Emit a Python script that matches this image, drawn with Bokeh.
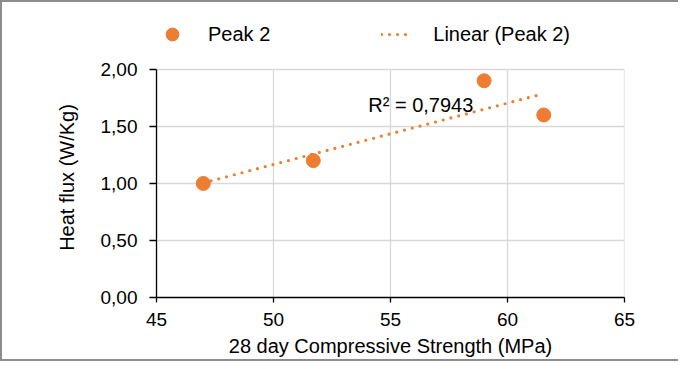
import numpy as np
from bokeh.plotting import figure
from bokeh.models import (Legend, LegendItem, Label, FixedTicker,
                          CustomJSTickFormatter, Range1d)
from bokeh.embed import file_html
from bokeh.resources import INLINE

# ---- data ----
strength = [47.0, 51.7, 59.0, 61.55]
heat_flux = [1.00, 1.20, 1.90, 1.60]
x_ticks = [45, 50, 55, 60, 65]
y_ticks = [0.0, 0.5, 1.0, 1.5, 2.0]
series_name = "Peak 2"
trend_name = "Linear (Peak 2)"
r2_text = "R² = 0,7943"
x_title = "28 day Compressive Strength (MPa)"
y_title = "Heat flux (W/Kg)"

# linear trendline computed from the data
slope, intercept = np.polyfit(strength, heat_flux, 1)
trend_x = [min(strength), max(strength)]
trend_y = [slope * v + intercept for v in trend_x]

ORANGE = "#ED7D31"
FONT = "Liberation Sans"
GRID = "#d9d9d9"

# frame extends above the plot area to host the legend (plot area is 0..2)
Y_VIEW_TOP = 2 + (71 - 10) / 112.5

p = figure(width=678, height=361, x_range=Range1d(45, 65), y_range=Range1d(0, Y_VIEW_TOP),
           output_backend="svg", toolbar_location=None,
           min_border_left=154, min_border_right=56,
           min_border_top=5, min_border_bottom=66)
p.styles = {"border-top": "2px solid #8c8c8c", "border-left": "2px solid #8c8c8c",
            "border-bottom": "2px solid #8c8c8c"}
p.outline_line_color = None
p.background_fill_color = "white"
p.border_fill_color = "white"

# axes
p.xaxis.ticker = FixedTicker(ticks=x_ticks)
p.yaxis.ticker = FixedTicker(ticks=y_ticks)
p.yaxis.bounds = (y_ticks[0], y_ticks[-1])
p.yaxis.formatter = CustomJSTickFormatter(code="return tick.toFixed(2).replace('.', ',');")
for ax in (p.xaxis[0], p.yaxis[0]):
    ax.axis_line_color = "black"
    ax.axis_line_width = 1.3
    ax.major_tick_line_color = "black"
    ax.major_tick_line_width = 1.3
    ax.major_tick_in = 0
    ax.minor_tick_line_color = None
    ax.major_label_text_font = FONT
    ax.major_label_text_font_size = "19px"
    ax.major_label_text_color = "black"
    ax.axis_label_text_font = FONT
    ax.axis_label_text_font_size = "20px"
    ax.axis_label_text_font_style = "normal"
    ax.axis_label_text_color = "black"
p.yaxis.major_tick_out = 7
p.xaxis.major_tick_out = 5
p.yaxis.major_label_standoff = 12
p.xaxis.major_label_standoff = 10
p.xaxis.axis_label = x_title
# trailing no-break spaces move the centred title down to the middle of the 0..2 area
p.yaxis.axis_label = y_title + "\u00a0" * 9
p.yaxis.axis_label_standoff = 20
p.xaxis.axis_label_standoff = 6

# grid: horizontal via Grid, vertical limited to the plot area (0..2)
p.xgrid.visible = False
p.ygrid.ticker = FixedTicker(ticks=y_ticks)
p.ygrid.grid_line_color = GRID
p.ygrid.grid_line_width = 1.3
p.segment(x0=x_ticks, y0=[y_ticks[0]] * len(x_ticks), x1=x_ticks,
          y1=[y_ticks[-1]] * len(x_ticks), line_color=GRID, line_width=1.3)

# marks
ln = p.line(trend_x, trend_y, line_color=ORANGE, line_width=3.2,
            line_dash="0 8", line_cap="round")
sc = p.scatter(strength, heat_flux, size=14, fill_color=ORANGE, line_color=ORANGE)

p.add_layout(Label(x=54.05, y=1.69, text=r2_text, text_baseline="middle",
                   text_align="left", text_font=FONT, text_font_size="20px",
                   text_color="black"))

legend = Legend(items=[LegendItem(label=series_name, renderers=[sc]),
                       LegendItem(label=trend_name, renderers=[ln])],
                orientation="horizontal", location=(0, 247),
                glyph_width=32, glyph_height=32, label_standoff=20, spacing=111,
                padding=0, margin=0, background_fill_alpha=0, border_line_alpha=0,
                label_text_font=FONT, label_text_font_size="20px",
                label_text_color="black")
p.add_layout(legend)

open("out.html", "w").write(file_html(p, INLINE))
